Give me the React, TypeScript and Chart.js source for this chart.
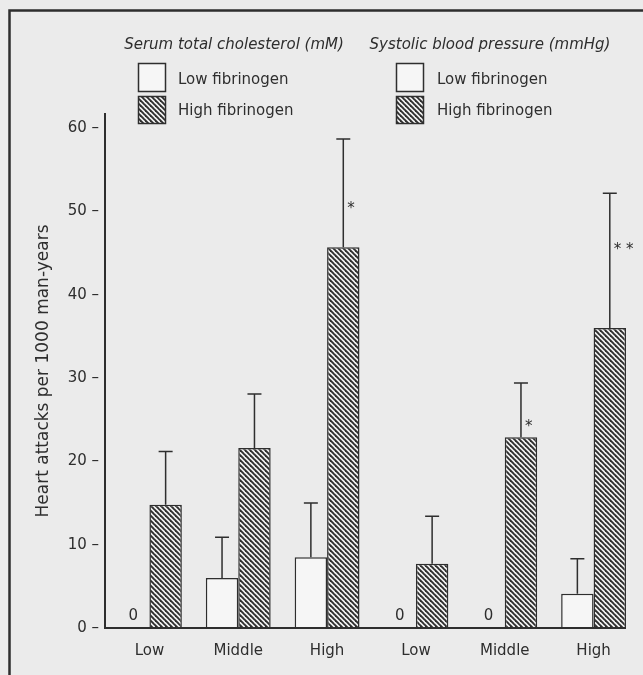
import React, { useEffect, useRef } from 'react';
import { Chart, registerables } from 'chart.js';

Chart.register(...registerables);

// ---- data ----
const categories = ['Low', 'Middle', 'High', 'Low', 'Middle', 'High'];
const lowFibrinogen = [0, 6.0, 8.5, 0, 0, 4.1];
const lowFibrinogenUpper: (number | null)[] = [null, 10.9, 15.0, null, null, 8.3];
const highFibrinogen = [14.8, 21.6, 45.7, 7.7, 22.9, 36.0];
const highFibrinogenUpper: (number | null)[] = [21.2, 28.1, 58.7, 13.4, 29.4, 52.2];
const significance = ['', '', '*', '', '*', '* *'];
const significanceY: (number | null)[] = [null, null, 50.8, null, 24.7, 45.9];
const groupTitles = ['Serum total cholesterol (mM)', 'Systolic blood pressure (mmHg)'];
const seriesNames = ['Low fibrinogen', 'High fibrinogen'];
const yTitle = 'Heart attacks per 1000 man-years';
const yMax = 61.7;
const yStep = 10;

const FONT = '"DejaVu Sans", sans-serif';
const INK = '#2e2e2e';
const PAPER = '#ebebeb';
const LIGHT = '#f6f6f6';

function makeHatch(): CanvasPattern | string {
  const c = document.createElement('canvas');
  c.width = 5;
  c.height = 5;
  const g = c.getContext('2d');
  if (!g) return INK;
  g.fillStyle = '#f2f2f2';
  g.fillRect(0, 0, 5, 5);
  g.strokeStyle = INK;
  g.lineWidth = 1.9;
  for (const off of [-5, 0, 5]) {
    g.beginPath();
    g.moveTo(off - 1, -1);
    g.lineTo(off + 6, 6);
    g.stroke();
  }
  return g.createPattern(c, 'repeat') || INK;
}

export default function App() {
  const ref = useRef<HTMLCanvasElement>(null);

  useEffect(() => {
    const hatch = makeHatch();

    const paperPlugin = {
      id: 'paper',
      beforeDraw(chart: any) {
        const { ctx, width, height } = chart;
        ctx.save();
        ctx.fillStyle = PAPER;
        ctx.fillRect(0, 0, width, height);
        ctx.strokeStyle = INK;
        ctx.lineWidth = 2.5;
        ctx.strokeRect(9.5, 10.5, width + 40, height + 40);
        ctx.restore();
      },
    };

    const marksPlugin = {
      id: 'marks',
      afterDatasetsDraw(chart: any) {
        const ctx = chart.ctx;
        const y = chart.scales.y;
        const zero = y.getPixelForValue(0);
        const uppers = [lowFibrinogenUpper, highFibrinogenUpper];
        ctx.save();
        ctx.strokeStyle = INK;
        ctx.lineWidth = 1.5;
        // error bars
        chart.data.datasets.forEach((_ds: any, i: number) => {
          const meta = chart.getDatasetMeta(i);
          meta.data.forEach((bar: any, j: number) => {
            const up = uppers[i][j];
            if (up == null) return;
            const yt = y.getPixelForValue(up);
            ctx.beginPath();
            ctx.moveTo(bar.x, bar.y);
            ctx.lineTo(bar.x, yt);
            ctx.moveTo(bar.x - 7, yt);
            ctx.lineTo(bar.x + 7, yt);
            ctx.stroke();
          });
        });
        // zero labels
        ctx.fillStyle = INK;
        ctx.font = `15px ${FONT}`;
        ctx.textAlign = 'center';
        ctx.textBaseline = 'alphabetic';
        const lowMeta = chart.getDatasetMeta(0);
        lowMeta.data.forEach((bar: any, j: number) => {
          if (lowFibrinogen[j] === 0) ctx.fillText('0', bar.x, zero - 8);
        });
        // significance asterisks
        const highMeta = chart.getDatasetMeta(1);
        ctx.textAlign = 'left';
        highMeta.data.forEach((bar: any, j: number) => {
          const v = significanceY[j];
          if (!significance[j] || v == null) return;
          ctx.fillText(significance[j], bar.x + 4, y.getPixelForValue(v) + 8.5);
        });
        // x axis line
        const last: any = highMeta.data[highMeta.data.length - 1];
        ctx.lineWidth = 2;
        ctx.beginPath();
        ctx.moveTo(chart.chartArea.left, zero);
        ctx.lineTo(last.x + last.width / 2, zero);
        ctx.stroke();
        ctx.restore();
      },
    };

    const legendPlugin = {
      id: 'groupLegend',
      afterDraw(chart: any) {
        const ctx = chart.ctx;
        const cols = [
          { center: 234, box: 138.5, text: 178 },
          { center: 490, box: 396.5, text: 437 },
        ];
        ctx.save();
        ctx.fillStyle = INK;
        ctx.strokeStyle = INK;
        ctx.lineWidth = 1.5;
        cols.forEach((c, k) => {
          ctx.font = `italic 15px ${FONT}`;
          ctx.textAlign = 'center';
          ctx.textBaseline = 'middle';
          ctx.fillStyle = INK;
          ctx.fillText(groupTitles[k], c.center, 45);
          // low box
          ctx.fillStyle = LIGHT;
          ctx.fillRect(c.box, 63.5, 27, 28);
          ctx.strokeRect(c.box, 63.5, 27, 28);
          // high box
          ctx.fillStyle = hatch as any;
          ctx.fillRect(c.box, 96.5, 27, 27);
          ctx.strokeRect(c.box, 96.5, 27, 27);
          ctx.fillStyle = INK;
          ctx.font = `15px ${FONT}`;
          ctx.textAlign = 'left';
          ctx.fillText(seriesNames[0], c.text, 80);
          ctx.fillText(seriesNames[1], c.text, 111);
        });
        ctx.restore();
      },
    };

    const chart = new Chart(ref.current as HTMLCanvasElement, {
      type: 'bar',
      data: {
        labels: categories,
        datasets: [
          {
            label: seriesNames[0],
            data: lowFibrinogen,
            backgroundColor: LIGHT,
            borderColor: INK,
            borderWidth: 1.5,
            categoryPercentage: 0.73,
            barPercentage: 1.0,
          },
          {
            label: seriesNames[1],
            data: highFibrinogen,
            backgroundColor: hatch as any,
            borderColor: INK,
            borderWidth: 1.5,
            categoryPercentage: 0.73,
            barPercentage: 1.0,
          },
        ],
      },
      options: {
        responsive: false,
        animation: false,
        devicePixelRatio: 1,
        events: [],
        layout: { padding: { top: 114, left: 8, right: 5, bottom: 1 } },
        plugins: {
          legend: { display: false },
          tooltip: { enabled: false },
        },
        scales: {
          x: {
            type: 'category',
            offset: true,
            grid: { display: false, drawTicks: false },
            border: { display: false },
            ticks: {
              color: INK,
              font: { family: FONT, size: 15 },
              padding: 14,
              maxRotation: 0,
              autoSkip: false,
            },
          },
          y: {
            min: 0,
            max: yMax,
            grid: { display: false, drawTicks: false },
            border: { display: true, color: INK, width: 2 },
            ticks: {
              stepSize: yStep,
              includeBounds: false,
              color: INK,
              font: { family: FONT, size: 15 },
              padding: 6,
              callback: (v: any) => `${v} –`,
            },
            title: {
              display: true,
              text: yTitle,
              color: INK,
              font: { family: FONT, size: 17 },
              padding: { top: 25, bottom: 0 },
            },
            afterFit: (s: any) => {
              s.width = 97;
            },
          },
        },
      } as any,
      plugins: [paperPlugin, marksPlugin, legendPlugin],
    });

    return () => chart.destroy();
  }, []);

  return (
    <div style={{ position: 'absolute', left: 0, top: 0, width: 643, height: 675 }}>
      <canvas ref={ref} width={643} height={675} style={{ display: 'block', width: 643, height: 675 }} />
    </div>
  );
}
